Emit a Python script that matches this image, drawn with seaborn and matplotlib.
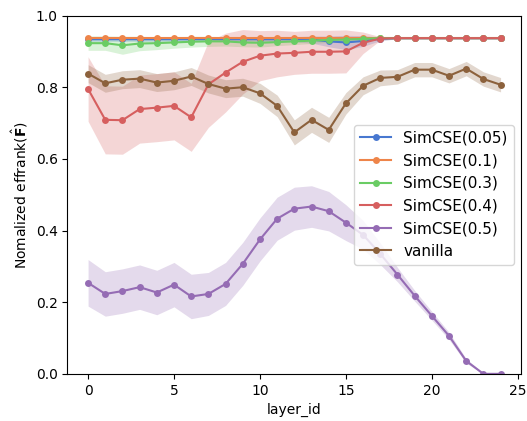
import matplotlib
matplotlib.use('Agg')
import seaborn as sns
import pandas as pd
import numpy as np
import matplotlib.pyplot as plt

layers = list(range(25))

simcse_005 = [0.934, 0.934, 0.934, 0.934, 0.934, 0.934, 0.934, 0.934, 0.934, 0.934,
              0.934, 0.934, 0.934, 0.933, 0.928, 0.925, 0.929, 0.935, 0.937, 0.937,
              0.937, 0.937, 0.937, 0.937, 0.937]
simcse_005_sd = [0.006, 0.006, 0.006, 0.006, 0.006, 0.006, 0.006, 0.006, 0.006, 0.006,
                 0.006, 0.006, 0.007, 0.01, 0.015, 0.02, 0.015, 0.005, 0.002, 0.002,
                 0.002, 0.002, 0.002, 0.002, 0.002]
simcse_01 = [0.938] * 25
simcse_01_sd = [0.003] * 25
simcse_03 = [0.923, 0.923, 0.917, 0.922, 0.923, 0.925, 0.927, 0.928, 0.928, 0.925,
             0.924, 0.926, 0.928, 0.930, 0.932, 0.933, 0.935, 0.937, 0.937, 0.937,
             0.937, 0.937, 0.937, 0.937, 0.937]
simcse_03_sd = [0.02, 0.02, 0.025, 0.02, 0.018, 0.016, 0.015, 0.014, 0.013, 0.012,
                0.012, 0.01, 0.009, 0.008, 0.007, 0.006, 0.004, 0.002, 0.002, 0.002,
                0.002, 0.002, 0.002, 0.002, 0.002]
simcse_04 = [0.795, 0.709, 0.708, 0.739, 0.743, 0.748, 0.716, 0.808, 0.841, 0.871,
             0.888, 0.894, 0.896, 0.899, 0.899, 0.900, 0.924, 0.936, 0.937, 0.937,
             0.937, 0.937, 0.937, 0.937, 0.937]
simcse_04_sd = [0.09, 0.095, 0.095, 0.095, 0.095, 0.095, 0.095, 0.12, 0.11, 0.09,
                0.07, 0.065, 0.06, 0.06, 0.06, 0.06, 0.03, 0.005, 0.002, 0.002,
                0.002, 0.002, 0.002, 0.002, 0.002]
simcse_05 = [0.254, 0.223, 0.231, 0.242, 0.227, 0.249, 0.216, 0.223, 0.251, 0.307,
             0.375, 0.433, 0.461, 0.467, 0.454, 0.422, 0.388, 0.335, 0.277, 0.218,
             0.162, 0.106, 0.036, 0.0, 0.0]
simcse_05_sd = [0.065, 0.062, 0.062, 0.062, 0.062, 0.062, 0.062, 0.06, 0.06, 0.06,
                0.06, 0.06, 0.06, 0.058, 0.055, 0.05, 0.04, 0.03, 0.02, 0.015,
                0.012, 0.01, 0.006, 0.002, 0.002]
vanilla = [0.838, 0.811, 0.821, 0.824, 0.813, 0.818, 0.830, 0.809, 0.796, 0.800,
           0.783, 0.748, 0.674, 0.709, 0.681, 0.755, 0.804, 0.826, 0.829, 0.849,
           0.849, 0.832, 0.852, 0.823, 0.807]
vanilla_sd = [0.025, 0.025, 0.025, 0.025, 0.025, 0.025, 0.025, 0.025, 0.025, 0.025,
              0.028, 0.03, 0.035, 0.035, 0.035, 0.03, 0.025, 0.022, 0.02, 0.02,
              0.02, 0.02, 0.02, 0.02, 0.02]

names = ['SimCSE(0.05)', 'SimCSE(0.1)', 'SimCSE(0.3)', 'SimCSE(0.4)', 'SimCSE(0.5)', 'vanilla']
means = [simcse_005, simcse_01, simcse_03, simcse_04, simcse_05, vanilla]
sds = [simcse_005_sd, simcse_01_sd, simcse_03_sd, simcse_04_sd, simcse_05_sd, vanilla_sd]

rows = []
for name, m, s in zip(names, means, sds):
    for l, v, e in zip(layers, m, s):
        rows.append({'layer_id': l, 'effrank': v, 'sd': e, 'model': name})
df = pd.DataFrame(rows)

colors = sns.color_palette('muted', 6)

fig, ax = plt.subplots(figsize=(5.27, 4.21), dpi=100)
fig.subplots_adjust(left=0.128, right=0.989, top=0.963, bottom=0.112)

# shaded spread bands
for i, name in enumerate(names):
    sub = df[df['model'] == name]
    lo = np.clip(sub['effrank'] - sub['sd'], 0, None)
    hi = sub['effrank'] + sub['sd']
    ax.fill_between(sub['layer_id'], lo, hi, color=colors[i], alpha=0.25, linewidth=0)

sns.lineplot(data=df, x='layer_id', y='effrank', hue='model', palette=colors,
             marker='o', markersize=5, markeredgewidth=0, linewidth=1.5,
             errorbar=None, ax=ax)

ax.set_ylim(0, 1.0)
ax.set_xlabel('layer_id')
ax.set_ylabel(r'Nomalized effrank($\hat{\mathbf{F}}$)')
ax.legend(loc='center right', title=None, fontsize=11)

plt.savefig('out.png', dpi=100)
plt.close()
